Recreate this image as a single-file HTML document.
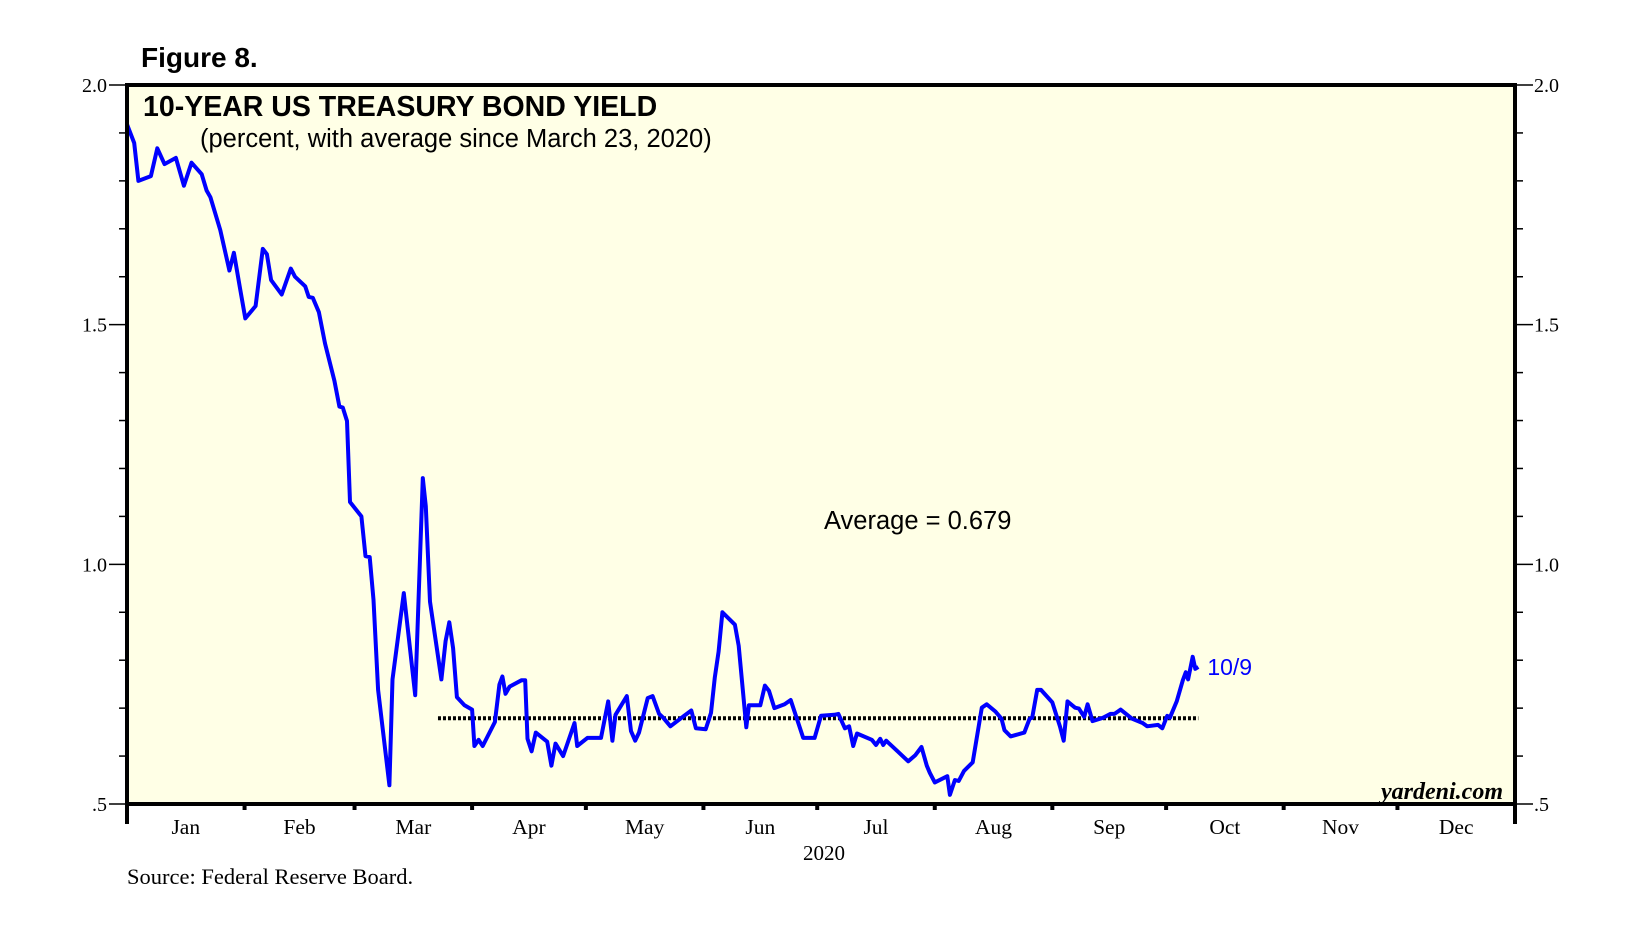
<!DOCTYPE html>
<html><head><meta charset="utf-8">
<style>
html,body{margin:0;padding:0;background:#fff;}
svg{display:block;}
.serif{font-family:"Liberation Serif",serif;}
.sans{font-family:"Liberation Sans",sans-serif;}
</style></head>
<body>
<svg id="chart" width="1626" height="939" viewBox="0 0 1626 939" xmlns="http://www.w3.org/2000/svg">
  <rect x="127" y="85" width="1388" height="719" fill="#ffffe6"/>
  <text class="sans" x="141" y="67" font-size="28" font-weight="bold">Figure 8.</text>
  <text class="sans" x="143" y="116" font-size="28.5" font-weight="bold">10-YEAR US TREASURY BOND YIELD</text>
  <text class="sans" x="200" y="147" font-size="25.5">(percent, with average since March 23, 2020)</text>
  <g id="ticks"></g>
  <g id="series"></g>
  <text class="sans" x="824" y="529" font-size="25.5">Average = 0.679</text>
  <text id="lastlabel" class="sans" font-size="23" fill="#0000ff">10/9</text>
  <text class="serif" x="1503" y="799" font-size="24" font-style="italic" font-weight="bold" text-anchor="end">yardeni.com</text>
  <text class="serif" x="824" y="860" font-size="21" text-anchor="middle">2020</text>
  <text class="serif" x="127" y="884" font-size="22.5">Source: Federal Reserve Board.</text>
  <rect x="127" y="85" width="1388" height="719" fill="none" stroke="#000" stroke-width="4"/>
  <line x1="127" y1="804" x2="127" y2="824" stroke="#000" stroke-width="4"/>
  <line x1="1515" y1="804" x2="1515" y2="824" stroke="#000" stroke-width="4"/>
</svg>
<script>
const days = [0,1.9,3,6.3,8,9.9,12.9,15,17,19.7,21,22,24.6,27,28.2,29.8,31.2,33.9,35.8,36.9,38,40.8,43.2,44.3,47,47.9,49,50.6,52.2,54.7,56,56.9,58,58.8,61.8,62.9,64,65,66.2,69.2,70,73,76,78,78.8,79.9,82.9,84,85,86,87,89,91,91.6,92.7,93.8,97,98.2,99,99.8,100.9,104,105,105.6,106.7,107.8,110.8,111.9,113,115,118,118.7,121.4,125,126.9,128,128.8,131.8,132.9,134,135,137.3,138.6,140.3,141.4,143.3,146.9,148.8,150,152.6,154,155,156,157,160.3,161.3,163.3,164,167,168.2,169.3,170.7,173.4,175,178.3,181.3,183,186.5,187.6,189.3,190.4,191.5,192.5,196.4,197.5,198.6,199.4,200.2,203.2,206,207.9,209.5,210.9,211.7,213,216.3,217,218.3,219.3,220.7,223,225.4,226.7,229,230.6,231.4,233,236.6,238,238.7,240,241,244,246,247,248,250,251,252.4,253.3,254.6,257.4,259.3,260.4,262,265,267.8,269,271.9,273,274.3,275,276.8,278.4,279.2,279.8,281,281.7,282.5];
const yields = [1.918,1.879,1.80,1.81,1.868,1.835,1.848,1.79,1.838,1.814,1.78,1.766,1.697,1.613,1.65,1.576,1.513,1.539,1.658,1.647,1.593,1.563,1.617,1.60,1.58,1.558,1.556,1.526,1.461,1.383,1.329,1.327,1.299,1.13,1.10,1.017,1.015,0.926,0.738,0.539,0.76,0.94,0.727,1.18,1.121,0.922,0.76,0.84,0.879,0.825,0.723,0.706,0.697,0.621,0.634,0.621,0.671,0.749,0.766,0.73,0.745,0.758,0.758,0.636,0.61,0.649,0.63,0.58,0.626,0.60,0.669,0.621,0.638,0.638,0.714,0.632,0.686,0.725,0.652,0.632,0.649,0.721,0.725,0.688,0.68,0.662,0.684,0.695,0.658,0.656,0.69,0.764,0.818,0.90,0.874,0.83,0.66,0.706,0.706,0.747,0.736,0.70,0.708,0.717,0.638,0.638,0.684,0.686,0.688,0.658,0.662,0.621,0.647,0.634,0.623,0.636,0.623,0.632,0.61,0.589,0.602,0.619,0.58,0.565,0.545,0.558,0.519,0.55,0.548,0.569,0.587,0.701,0.708,0.693,0.678,0.654,0.641,0.649,0.678,0.68,0.738,0.738,0.712,0.662,0.632,0.714,0.701,0.699,0.682,0.708,0.673,0.68,0.688,0.688,0.697,0.678,0.669,0.662,0.665,0.658,0.684,0.68,0.714,0.758,0.775,0.76,0.807,0.782,0.786];
const average = 0.679;
const avgStartDay = 82;
const months = ["Jan","Feb","Mar","Apr","May","Jun","Jul","Aug","Sep","Oct","Nov","Dec"];
const monthStarts = [0,31,60,91,121,152,182,213,244,274,305,335,366];
const yTickLabels = ["2.0","1.5","1.0",".5"];
const yTickValues = [2.0,1.5,1.0,0.5];

const NS="http://www.w3.org/2000/svg";
const X0=127,X1=1515,Y0=85,Y1=804,VMAX=2.0,VMIN=0.5,NDAYS=366;
function xs(d){return X0+d/NDAYS*(X1-X0);}
function ys(v){return Y1-(v-VMIN)/(VMAX-VMIN)*(Y1-Y0);}
function mk(tag,attrs,parent){const e=document.createElementNS(NS,tag);for(const k in attrs)e.setAttribute(k,attrs[k]);parent.appendChild(e);return e;}
const ticks=document.getElementById('ticks');
const series=document.getElementById('series');

for(let i=0;i<=15;i++){
  const v=VMIN+i*0.1;const y=ys(v);
  const major=Math.abs((v*2)-Math.round(v*2))<1e-6;
  const len=major?18:8;
  const l=mk('line',{x1:X0-len,y1:y,x2:X0,y2:y,stroke:'#000','stroke-width':1.5},ticks);
  
  
  const r=mk('line',{x1:X1,y1:y,x2:X1+len,y2:y,stroke:'#000','stroke-width':1.5},ticks);
  
  
}
yTickValues.forEach((v,i)=>{
  const y=ys(v)+7;
  const t=mk('text',{x:X0-20,y:y,'text-anchor':'end','font-size':20,class:'serif'},ticks);
  t.textContent=yTickLabels[i];
  
  
  const t2=mk('text',{x:X1+19,y:y,'text-anchor':'start','font-size':20,class:'serif'},ticks);
  t2.textContent=yTickLabels[i];
  
  
});
for(let i=1;i<12;i++){
  const x=xs(monthStarts[i]);
  const l=mk('line',{x1:x,y1:Y1,x2:x,y2:Y1+6,stroke:'#000','stroke-width':4},ticks);
  
  
}
months.forEach((m,i)=>{
  const x=xs((monthStarts[i]+monthStarts[i+1])/2);
  const t=mk('text',{x:x,y:834,'text-anchor':'middle','font-size':21.5,class:'serif'},ticks);
  t.textContent=m;
  
  
});
const lastDay=days[days.length-1];
const avg=mk('line',{x1:xs(avgStartDay),y1:ys(average),x2:xs(lastDay),y2:ys(average),stroke:'#000','stroke-width':4,'stroke-dasharray':'3 2'},series);


const pts=days.map((d,i)=>xs(d).toFixed(1)+','+ys(yields[i]).toFixed(1)).join(' ');
const pl=mk('polyline',{points:pts,fill:'none',stroke:'#0000ff','stroke-width':4,'stroke-linejoin':'round'},series);


const ll=document.getElementById('lastlabel');
ll.setAttribute('x',xs(lastDay)+9);
ll.setAttribute('y',ys(yields[yields.length-1])+8);
</script>
</body></html>
